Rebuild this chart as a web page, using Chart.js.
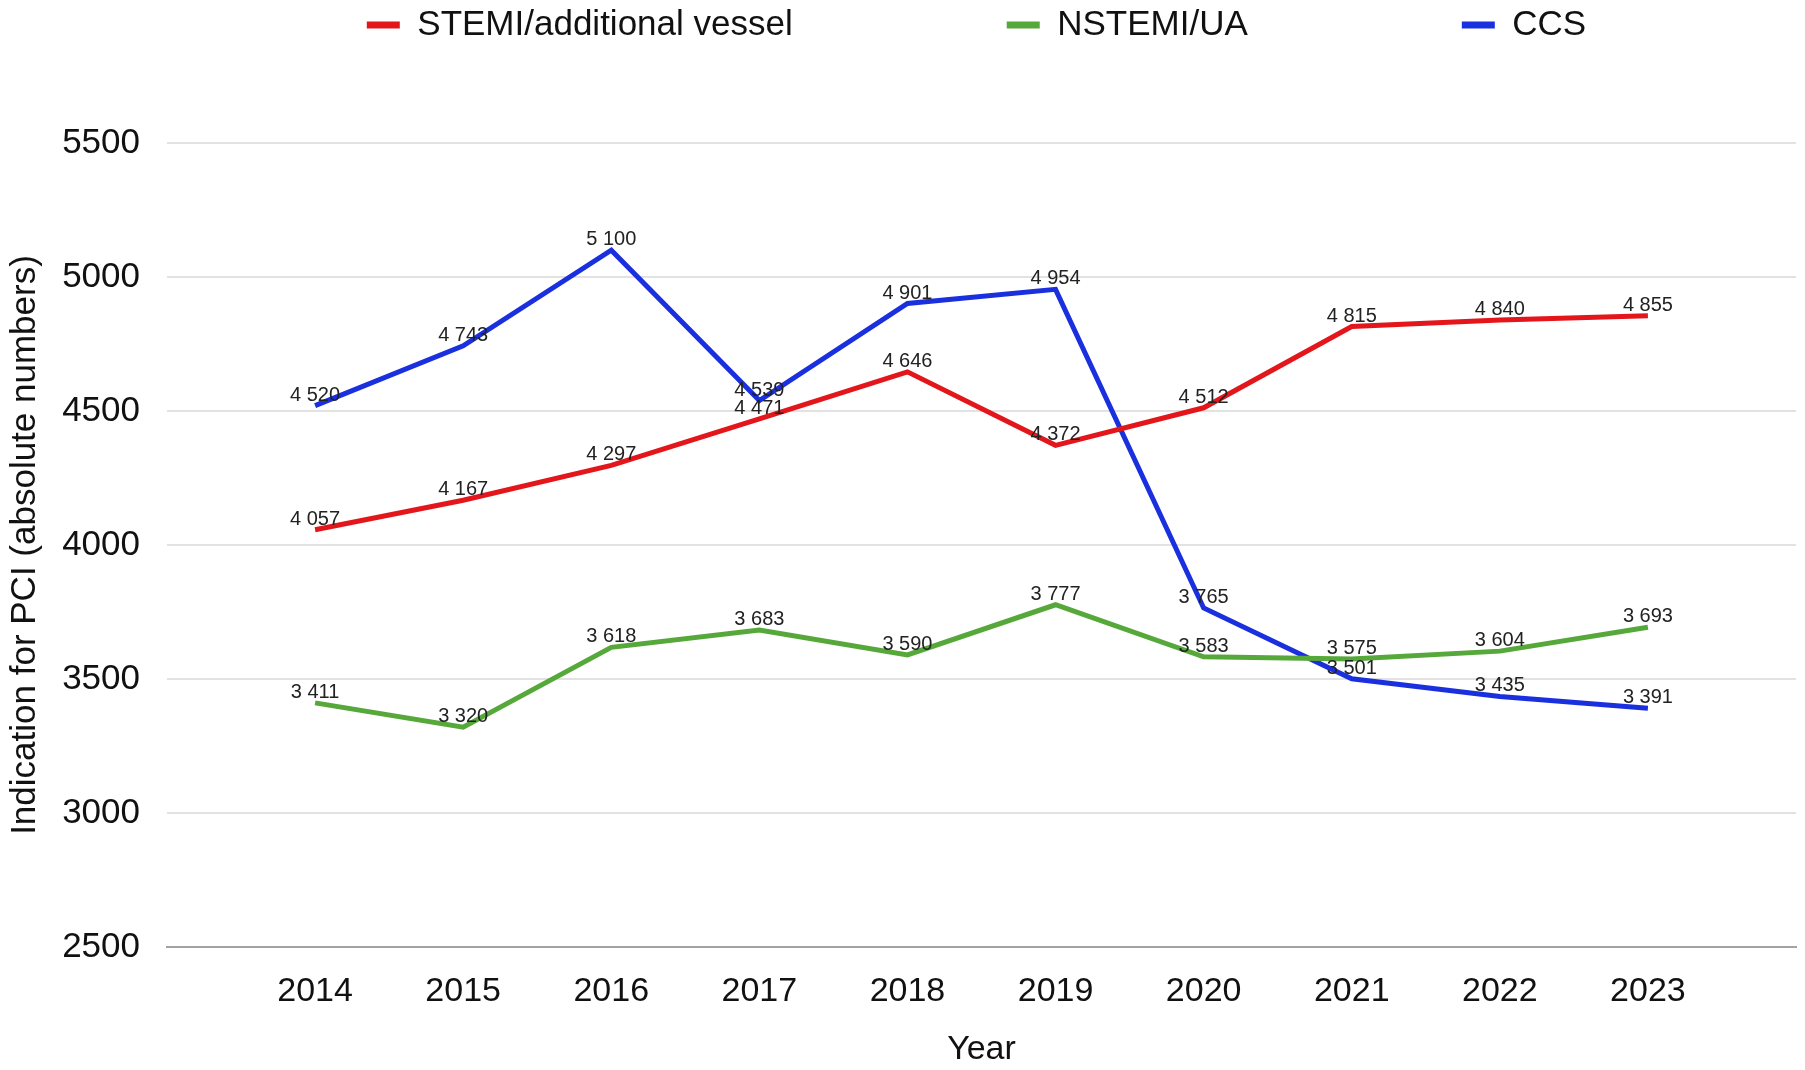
<!DOCTYPE html>
<html>
<head>
<meta charset="utf-8">
<script src="https://cdn.jsdelivr.net/npm/chart.js@4.4.1/dist/chart.umd.min.js"></script>
<style>
  html, body { margin: 0; padding: 0; background: #ffffff; }
  #wrap { width: 1805px; height: 1070px; position: relative; }
</style>
</head>
<body>
<div id="wrap"><canvas id="c"></canvas></div>
<script>
const years = [2014, 2015, 2016, 2017, 2018, 2019, 2020, 2021, 2022, 2023];
const stemi = [4057, 4167, 4297, 4471, 4646, 4372, 4512, 4815, 4840, 4855];
const nstemi = [3411, 3320, 3618, 3683, 3590, 3777, 3583, 3575, 3604, 3693];
const ccs = [4520, 4743, 5100, 4539, 4901, 4954, 3765, 3501, 3435, 3391];
const seriesNames = ['STEMI/additional vessel', 'NSTEMI/UA', 'CCS'];
const yTicks = [2500, 3000, 3500, 4000, 4500, 5000, 5500];
const xTitle = 'Year';
const yTitle = 'Indication for PCI (absolute numbers)';

const FONT = "'Liberation Sans', Arial, Helvetica, sans-serif";
const LEGEND_PAD = 214;

function fmt(v) { return String(v).replace(/\B(?=(\d{3})+(?!\d))/g, ' '); }
function pts(arr) { return years.map((y, i) => ({ x: y, y: arr[i] })); }

const valueLabels = {
  id: 'valueLabels',
  afterDatasetsDraw(chart) {
    const ctx = chart.ctx;
    ctx.save();
    ctx.font = '20px ' + FONT;
    ctx.fillStyle = '#222222';
    ctx.textAlign = 'center';
    ctx.textBaseline = 'alphabetic';
    chart.data.datasets.forEach((ds, di) => {
      const meta = chart.getDatasetMeta(di);
      meta.data.forEach((pt, i) => {
        ctx.fillText(fmt(ds.data[i].y), pt.x, pt.y - 5);
      });
    });
    ctx.restore();
  }
};

// centre the legend row over the plot area (as in the reference) and keep it on one row
const legendPlace = {
  id: 'legendPlace',
  beforeDraw(chart) {
    const lg = chart.legend;
    if (!lg) return;
    const ca = chart.chartArea;
    const far = 6000;
    lg.right = far;
    lg.left = ca.left + ca.right - 10 - far;
    lg.width = lg.right - lg.left;
    lg.top = 25 - LEGEND_PAD - 17.5;
  }
};

new Chart(document.getElementById('c'), {
  type: 'line',
  data: {
    datasets: [
      { label: seriesNames[0], data: pts(stemi), borderColor: '#e2161b', backgroundColor: '#e2161b' },
      { label: seriesNames[1], data: pts(nstemi), borderColor: '#56a83a', backgroundColor: '#56a83a' },
      { label: seriesNames[2], data: pts(ccs), borderColor: '#1a30de', backgroundColor: '#1a30de' }
    ]
  },
  options: {
    responsive: true,
    maintainAspectRatio: false,
    animation: false,
    devicePixelRatio: 1,
    layout: { padding: { top: 0, left: 4, right: 9, bottom: 0 } },
    elements: {
      line: { borderWidth: 5, tension: 0, borderJoinStyle: 'miter' },
      point: { radius: 0, hoverRadius: 0 }
    },
    plugins: {
      tooltip: { enabled: false },
      legend: {
        position: 'top',
        align: 'center',
        maxHeight: 143,
        labels: {
          font: { family: FONT, size: 35 },
          color: '#111111',
          boxWidth: 33,
          boxHeight: 7,
          padding: LEGEND_PAD,
          generateLabels(chart) {
            const items = Chart.defaults.plugins.legend.labels.generateLabels(chart);
            items.forEach(it => { it.lineWidth = 0; it.strokeStyle = 'rgba(0,0,0,0)'; });
            return items;
          }
        }
      }
    },
    scales: {
      x: {
        type: 'linear',
        min: 2013,
        max: 2024,
        afterBuildTicks(scale) {
          scale.ticks = [2013].concat(years, [2024]).map(v => ({ value: v }));
        },
        afterFit(scale) {
          scale.height = 123;
          scale.paddingLeft = 0;
          scale.paddingRight = 0;
        },
        grid: { display: false, drawTicks: false },
        border: { display: true, color: '#a3a3a3', width: 2 },
        ticks: {
          autoSkip: false,
          maxRotation: 0,
          padding: 24,
          color: '#111111',
          font: { family: FONT, size: 34 },
          callback: (v) => (years.indexOf(v) >= 0 ? String(v) : '')
        },
        title: {
          display: true,
          text: xTitle,
          color: '#111111',
          font: { family: FONT, size: 34 },
          padding: { top: 0, bottom: 0 }
        }
      },
      y: {
        min: 2500,
        max: 5500,
        afterBuildTicks(scale) {
          scale.ticks = yTicks.map(v => ({ value: v }));
        },
        afterFit(scale) { scale.width = 163; },
        grid: { color: '#e2e2e2', lineWidth: 2, drawTicks: false },
        border: { display: false },
        ticks: {
          padding: 27,
          color: '#111111',
          font: { family: FONT, size: 35 },
          callback: (v) => String(v)
        },
        title: {
          display: true,
          text: yTitle,
          color: '#111111',
          font: { family: FONT, size: 35 },
          padding: { top: 0, bottom: 0 }
        }
      }
    }
  },
  plugins: [valueLabels, legendPlace]
});
</script>
</body>
</html>
